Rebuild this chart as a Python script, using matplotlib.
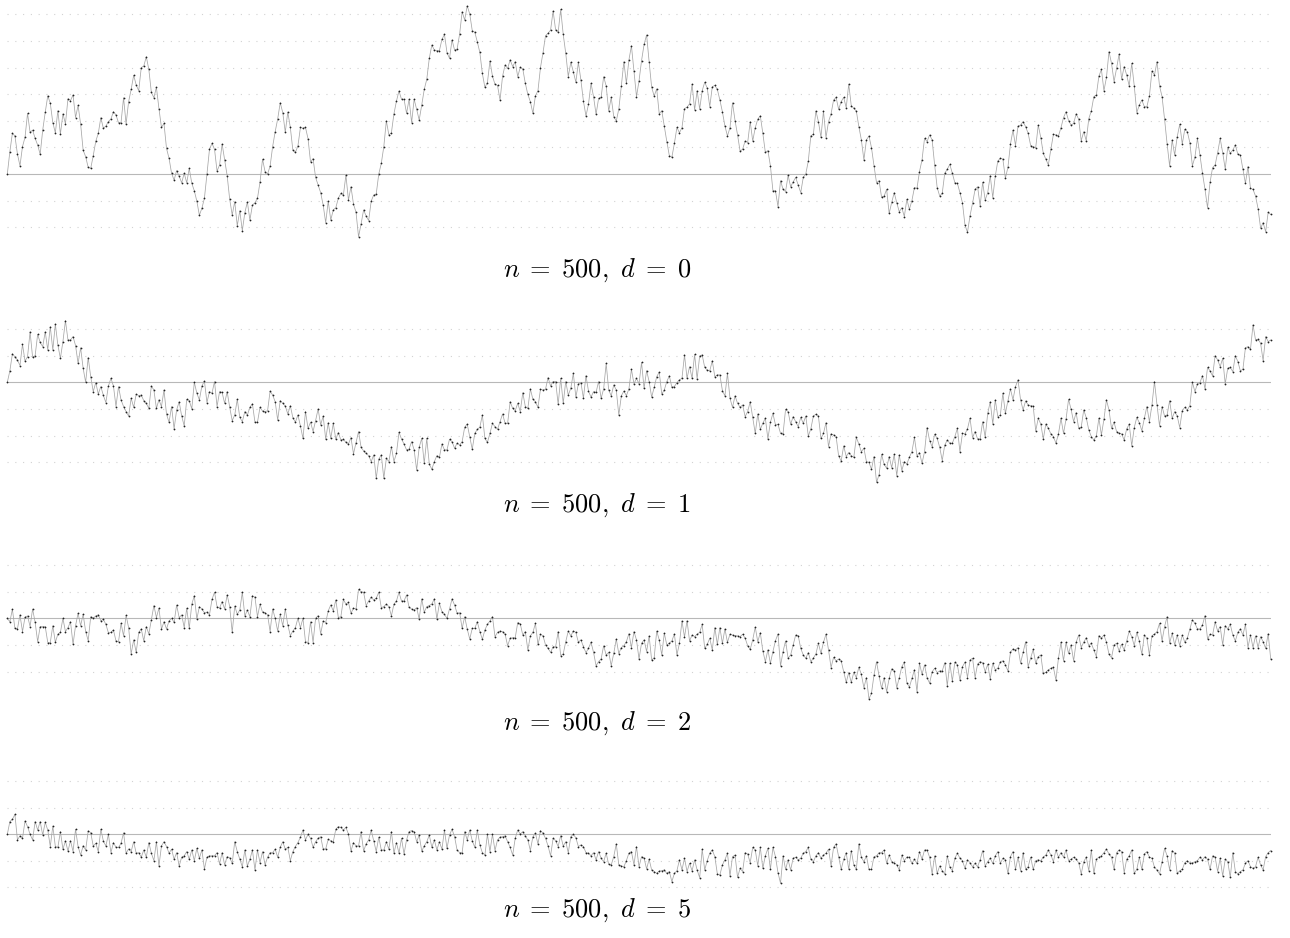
import matplotlib.pyplot as plt
import numpy as np

plt.rcParams['mathtext.fontset'] = 'cm'
plt.rcParams['lines.scale_dashes'] = False

# values, one list per panel (501 points each)
d0 = [
    0, 0.84, 1.53, 1.43, 0.75, 0.31, 1.03, 1.38, 2.28, 1.57,
    1.65, 1.34, 1.09, 0.74, 1.65, 2.32, 2.94, 2.66, 1.93, 1.55,
    2.38, 1.50, 2.26, 1.89, 2.83, 2.76, 2.97, 2.12, 2.58, 1.88,
    0.90, 0.65, 0.25, 0.21, 0.69, 1.23, 1.53, 2.12, 1.72, 1.80,
    1.97, 2.07, 2.34, 2.22, 1.93, 1.93, 2.87, 1.88, 2.72, 3.18,
    3.71, 3.35, 3.13, 4.00, 4.06, 4.41, 3.93, 3.07, 2.87, 3.26,
    2.46, 1.75, 1.90, 0.96, 0.59, 0.03, -0.23, 0.13, -0.08, -0.33,
    0.03, -0.33, 0.21, -0.35, -0.63, -1.02, -1.55, -1.29, -0.91, -0.01,
    0.93, 1.15, 0.93, 0.11, 0.34, 1.13, 0.53, -0.06, -0.95, -1.54,
    -1.04, -1.95, -1.38, -2.13, -1.45, -1.05, -1.73, -1.17, -1.08, -0.91,
    -0.31, 0.56, 0.09, 0.00, 0.30, 1.03, 1.59, 2.07, 2.68, 2.31,
    1.57, 2.33, 1.75, 0.90, 0.81, 1.05, 1.75, 1.72, 1.75, 1.33,
    0.45, 0.58, -0.13,
    -0.41, -0.70, -1.17, -1.83, -1.02, -1.73, -1.35, -1.27, -0.91, -0.73,
    -0.79, -0.04, -0.98, -0.48, -1.13, -1.44, -2.36, -1.88, -1.35, -1.58,
    -1.75, -1.02, -0.79, -0.75, 0.00, 0.40, 1.03, 2.00, 1.47, 1.55,
    2.26, 2.74, 3.12, 2.81, 2.81, 2.28, 2.81, 1.93, 2.81, 2.43,
    2.03, 2.59, 3.18, 3.56, 4.35, 4.85, 4.66, 4.64, 4.64, 5.06,
    5.25, 4.56, 4.35, 5.04, 4.66, 4.69, 5.26, 6.10, 5.79, 6.32,
    6.02, 5.39, 5.33, 4.97, 4.57, 3.78, 3.26, 3.43, 4.25, 3.68,
    3.37, 3.33, 2.78, 3.68, 4.10, 3.97, 4.29, 4.04, 4.22, 3.66,
    4.01, 3.95, 3.41, 2.99, 2.72, 2.28, 2.94, 3.13, 4.00, 4.56,
    5.20, 5.29, 5.41, 6.13, 5.41, 5.33, 6.19, 5.25, 4.54, 3.66,
    4.20, 3.85, 3.45, 4.20, 3.53, 2.74, 2.18, 2.62, 3.41, 2.91,
    2.24, 2.84, 2.88, 3.66, 3.31, 2.37, 2.88, 2.16, 1.99, 2.44,
    3.31, 4.22, 3.41, 4.29,
    4.82, 3.87, 2.91, 3.50, 4.26, 4.87, 5.23, 4.22, 3.26, 2.93,
    3.20, 2.26, 2.38, 1.80, 1.22, 0.69, 0.63, 1.15, 1.75, 1.55,
    1.74, 2.46, 2.51, 2.64, 3.38, 2.41, 3.13, 2.44, 3.13, 3.45,
    3.23, 2.53, 3.28, 3.33, 3.18, 2.78, 2.34, 1.80, 1.43, 1.74,
    2.68, 2.01, 1.47, 0.86, 0.93, 1.24, 1.18, 1.97, 1.24, 1.74,
    2.06, 2.19, 1.53, 0.81, 0.88, 0.31, -0.63, -0.63, -1.23, -0.25,
    -0.58, -0.66, -0.05, -0.48, -0.30, -0.13, -0.41, -0.70, -0.13, 0.00,
    0.49, 1.44, 1.49, 2.37, 1.97, 1.38, 2.37, 1.37, 1.97, 2.26,
    2.78, 2.88, 2.43, 2.72, 2.88, 2.49, 3.38, 2.57, 2.47, 2.37,
    1.78, 1.28, 0.53, 1.28, 1.43, 0.99, 0.31, -0.33, -0.25, -0.88,
    -0.83, -0.58, -1.48, -1.07, -0.70, -1.08, -1.42, -1.27, -1.60, -0.95,
    -1.33, -1.00, -0.51, -0.54, 0.09, 0.53, 1.34, 1.22, 1.47, 1.28,
    0.34, -0.51, -0.83, -0.73, 0.03,
    0.18, 0.36, 0.03, -0.33, -0.35, -0.70, -1.08, -1.92, -2.19, -1.57,
    -1.10, -0.58, -0.48, -1.20, -0.31, -0.98, -0.70, -0.06, -0.89, -0.08,
    0.49, 0.59, 0.56, -0.16, 0.25, 1.12, 1.65, 1.07, 1.80, 1.84,
    1.97, 1.78, 1.53, 1.07, 1.03, 0.99, 1.84, 1.37, 0.78, 0.56,
    0.34, 0.93, 1.49, 1.47, 1.43, 1.74, 2.12, 2.34, 2.01, 1.84,
    1.90, 2.26, 2.06, 1.25, 1.59, 1.25, 2.08, 2.37, 2.91, 2.97,
    3.68, 3.93, 3.13, 3.63, 4.60, 4.16, 3.47, 3.97, 4.51, 3.56,
    4.04, 3.72, 3.31, 4.16, 3.31, 2.31, 2.59, 2.78, 2.53, 2.53,
    2.94, 3.87, 3.72, 4.22, 3.31, 2.91, 2.06, 1.13, 0.30, 1.28,
    0.71, 1.40, 1.87, 1.13, 1.68, 1.59, 1.18, 0.31, 0.63, 1.34,
    0.71, 0.03, -0.58, -1.27, -0.31, 0.24, 0.34, 0.80, 1.34, 0.80,
    0.19, 1.00, 0.78, 0.90, 1.09, 0.74, 0.71, 0.18, -0.35, 0.28,
    -0.54, -0.58, -0.83, -1.30, -2.04, -1.83, -2.17, -1.44, -1.52,
]

d1 = [
    0, 0.43, 1.07, 0.96, 0.84, 0.63, 1.43, 0.80, 0.96, 1.90,
    0.94, 1.00, 1.80, 1.50, 1.34, 1.90, 1.22, 2.09, 1.22, 2.19,
    1.40, 0.90, 1.53, 2.32, 1.59, 1.59, 1.72, 1.38, 0.71, 1.30,
    0.53, 0.00, 0.93, 0.21, -0.35, -0.01, -0.44, -0.16, -0.49, -0.76,
    -0.14, 0.15, -0.14, -0.91, -0.16, -0.66, -0.91, -1.10, -1.27, -0.60,
    -0.94, -0.45, -0.50, -0.48, -0.69, -0.79, -0.98, -0.14, -0.29, -0.98,
    -0.66, -0.91, -0.29, -1.20, -1.50, -0.91, -1.75, -1.04, -0.73, -1.27,
    -1.64, -0.64, -0.69, -1.00, 0.00, -0.41, -0.66, -0.14, 0.05, -0.76,
    -0.35, -0.41, 0.03, -0.91, -0.35, -0.38, -0.79, -0.35, -0.94, -1.44,
    -1.23, -0.64, -1.32, -1.48, -1.10, -1.23, -0.94, -0.81, -1.50, -1.50,
    -0.94, -1.08, -1.10, -1.07, -0.33, -0.48, -0.73, -1.42, -0.69, -0.79,
    -0.89, -1.19, -0.88, -1.33, -1.50, -1.23, -1.64, -2.11, -1.10, -1.73,
    -1.50, -1.85, -1.44, -1.00, -1.60, -1.27, -2.14, -1.52, -2.11, -1.54,
    -2.14, -1.89, -2.17, -2.14, -2.26, -2.32, -2.08, -2.69, -2.27, -1.85,
    -2.44, -2.58, -2.67, -2.76, -2.98, -2.73, -3.61, -2.89, -2.73, -3.61,
    -2.86, -2.98, -2.42, -2.98, -2.67, -1.88, -2.13, -2.32, -2.54, -2.51,
    -2.23, -2.54, -3.30, -2.44, -2.11, -3.05, -2.11, -3.07,
    -3.27, -2.98, -2.76, -2.82, -2.32, -2.54, -2.54, -2.14, -2.23, -2.48,
    -2.29, -2.36, -2.23, -1.69, -1.57, -2.04, -2.52, -1.92, -1.77, -1.69,
    -1.23, -2.11, -2.26, -1.92, -1.54, -1.67, -1.77, -1.48, -1.19, -1.54,
    -1.54, -0.73, -0.98, -1.07, -0.79, -1.10, -0.39, -0.91, -0.98, -0.25,
    -0.64, -0.73, -0.94, -0.26, -0.29, -0.26, 0.18, -0.14, 0.03, 0.03,
    -0.83, 0.15, -0.79, 0.03, -0.48, -0.23, 0.34, -0.56, -0.06, -0.01,
    -0.60, 0.25, -0.33, -0.56, -0.35, -0.38, 0.03, -0.60, -0.25, 0.71,
    -0.29, -0.51, -0.10, -0.29, -1.23, -0.51, -0.33, -0.50, -0.25, 0.49,
    -0.06, 0.15, -0.06, 0.75, -0.23, 0.44, 0.03, -0.56, -0.19, 0.21,
    0.38, -0.44, -0.29, 0.03, 0.24, -0.19, -0.16, -0.01, 0.09, 0.15,
    1.03, 0.15, 0.59, 0.15, 1.05, 0.13, 0.99, 1.03, 0.56, 0.46,
    0.43, 0.81, 0.21, 0.28, 0.28, -0.31, -0.51, 0.34, -0.60, -0.94,
    -0.51, -0.79, -0.94, -0.85, -1.29, -1.10, -0.73, -1.32, -1.92, -1.19,
    -1.77, -1.54, -1.35, -2.13, -1.50, -1.17, -1.60, -1.58, -1.92, -1.94,
    -1.02, -1.10, -1.58, -1.29, -1.48, -1.67, -1.32, -1.54, -1.27, -2.02,
    -1.75, -1.27, -1.20, -1.27, -2.11, -1.92, -1.52, -2.42, -1.94, -1.98,
    -2.04, -2.77, -2.96, -2.39, -2.79, -2.64, -2.76, -2.82,
    -2.07, -2.32, -2.61, -2.48, -2.98, -3.01, -3.27, -2.79, -3.76, -3.48,
    -2.71, -3.08, -3.23, -2.79, -3.21, -2.71, -3.51, -2.73, -3.32, -2.98,
    -3.07, -2.82, -2.61, -2.07, -2.76, -2.64, -3.05, -2.61, -1.70, -2.19,
    -2.42, -1.95, -2.11, -2.44, -2.94, -2.36, -2.17, -2.29, -2.29, -2.04,
    -1.73, -2.61, -1.92, -1.94, -1.75, -1.35, -2.08, -1.85, -2.13, -2.13,
    -1.48, -2.07, -1.17, -0.73, -1.57, -0.66, -1.29, -1.23, -0.41, -1.17,
    -0.69, -0.25, -0.66, -0.16, 0.09, -0.66, -1.04, -0.70, -0.85, -0.88,
    -0.89, -1.83, -1.35, -1.57, -2.13, -1.57, -1.73, -1.94, -2.04, -2.29,
    -1.94, -1.35, -1.92, -1.39, -0.64, -1.02, -1.48, -1.14, -1.73, -1.69,
    -1.04, -1.33, -1.79, -2.04, -2.17, -2.02, -1.35, -1.98, -1.39, -0.66,
    -1.04, -1.73, -1.50, -1.85, -1.92, -1.94, -2.17, -1.75, -1.58, -2.39,
    -1.70, -1.32, -1.52, -1.82, -1.35, -0.91, -1.48, -0.85, 0.03, -0.85,
    -1.64, -0.91, -1.27, -1.23, -0.69, -1.35, -1.10, -1.27, -1.70, -1.07,
    -0.94, -1.04, -0.88, 0.00, -0.35, -0.06, -0.01, 0.25, -0.25, 0.56,
    0.43, 0.24, 1.00, 0.84, 0.59, 0.90, -0.06, 0.53, 0.56, 0.40,
    1.00, 0.78, 0.43, 0.49, 1.30, 1.34, 1.24, 2.16, 1.59, 1.62,
    1.47, 0.81, 1.72, 1.53, 1.59,
]

d2 = [
    0, -0.13, 0.34, -0.38, -0.40, 0.13, -0.50, 0.04, 0.09, -0.31,
    0.35, -0.15, -0.88, -0.31, -0.31, -0.31, -0.91, -0.91, -0.28, -0.90,
    -0.60, -0.53, 0, -0.50, -0.35, -0.13, -0.98, -0.28, 0.19, -0.28,
    0.15, -0.50, -0.84, 0.06, 0, 0.09, 0.13, -0.09, -0.04, -0.23,
    -0.54, -0.53, -0.44, -0.85, -0.88, -0.19, -0.66, 0.11, -0.35, -1.34,
    -0.81, -1.28, -0.53, -0.40, -0.85, -0.31, -0.59, -0.06, 0.48, 0.03,
    0.38, -0.41, -0.13, -0.40, -0.10, 0, -0.15, 0.50, 0.03, 0.13,
    -0.35, 0.38, -0.38, 0.53, 0.85, -0.03, 0.44, 0.35, 0.21, 0.23,
    0.13, 0.71, 0.98, 0.44, 0.38, 0.63, 0.35, 0.88, 0.44, -0.53,
    0.46, 0.15, 0.31, 0.98, 0.09, 0.31, 0.06, 0.85, 0.79, 0.06,
    0.53, 0.23, 0.21, 0.13, -0.50, 0.35, 0, -0.48, 0.15, -0.28,
    0.35, -0.25, -0.65, -0.48, -0.35, 0, -0.35, 0, -0.88, -0.91,
    -0.13, -0.91, 0, 0.10, -0.59, -0.10, -0.16, 0.28, 0.50, 0.28,
    0.69, 0.03, 0.06, 0.71, 0.53, 0.60, 0.19, 0.38, 0.35, 1.09,
    1.00, 0.98, 0.48, 0.65, 0.79, 0.69, 0.75, 0.98, 0.40, 0.44,
    0.53, 0.44, 0.09, 0.53, 0.65, 0.98, 0.65, 0.65, 0.88, 0.41,
    0.35, 0.31, 0.40, -0.03, 0.73, 0.23, 0.44, 0.48, 0.54, 0.73,
    -0.03, 0.56, 0.25, 0.15, 0, 0.35, 0.73, 0.50, 0.19, 0.21,
    -0.38, 0.06, -0.40, -0.78, -0.38, -0.38, -0.13, -0.50, -0.79, -0.44,
    -0.23, -0.10, 0.06, -0.69, -0.53, -0.48, -0.50, -0.60, -1.03, -0.75,
    -0.73, -0.73, -0.16, -0.21, -0.63, -0.50, -1.19, -0.66, -0.53, -0.19,
    -0.98, -0.60, -0.66, -1.00, -1.13, -1.28, -1.07, -1.07, -0.50, -1.40,
    -1.34, -0.88, -0.48, -0.66, -0.48, -0.53, -0.90, -0.81, -1.07, -1.29,
    -1.13, -0.90, -1.28, -1.78, -1.63, -1.53, -1.03, -1.38, -1.28, -1.78,
    -1.32, -0.78, -1.33, -1.10, -1.03, -0.88, -0.58, -1.10, -0.50, -0.81,
    -1.53, -0.94, -0.81,
    -1.25, -0.66, -1.57, -1.48, -0.48, -0.81, -1.38, -0.56,
    -1.00, -0.94, -0.85, -0.59, -1.38, -0.94, -0.10, -0.71, -0.09, -0.85,
    -0.63, -0.69, -0.60, -0.53, -0.23, -1.13, -0.98, -0.75, -1.19, -0.35,
    -0.98, -0.35, -0.94, -0.40, -0.90, -0.60, -0.63, -0.65, -0.66, -0.69,
    -0.60, -0.75, -1.03, -1.17, -0.81, -0.33, -0.88, -0.54, -1.23, -1.63,
    -1.19, -1.69, -1.25, -0.84, -0.59, -1.79, -1.25, -0.85, -1.50, -1.38,
    -1.00, -0.63, -0.65, -1.13, -1.38, -1.50, -1.29, -1.63, -1.50, -1.34,
    -0.94, -1.32, -0.90, -0.60, -1.19, -1.85, -1.47, -1.60, -1.53, -1.60,
    -2.01, -2.41, -2.04, -2.41, -2.03, -2.23, -1.84, -2.11, -2.61, -2.23,
    -3.03, -2.82, -2.13, -1.63, -2.17, -2.63, -2.23, -2.76, -2.26, -1.90,
    -1.98, -2.61, -2.23, -1.82, -1.65, -2.42, -2.59, -2.26, -1.94, -2.76,
    -1.69, -2.11, -1.75, -2.23, -2.44, -2.01, -1.88, -2.04, -1.98, -1.98,
    -1.67, -2.54, -1.69, -2.36, -1.65, -1.75, -2.32, -1.82, -1.65, -2.23,
    -1.57, -1.50, -2.23, -1.72, -1.63, -1.67, -2.01, -1.73, -2.28, -1.69,
    -1.94, -1.88, -1.63, -1.60, -1.75, -1.98, -1.28, -1.15, -1.19, -1.10,
    -1.69, -1.28, -0.88, -1.82, -1.50, -1.17, -1.69, -1.44, -1.38, -2.07,
    -2.03, -1.94, -1.88, -1.84, -2.32, -1.50, -0.90, -1.60, -0.90, -1.32,
    -1.00, -1.60, -0.90, -0.63, -1.10, -0.90, -0.73, -1.03, -0.94, -1.19,
    -1.44, -0.65, -0.75, -0.63, -0.90, -1.35, -1.48, -1.00, -0.94, -1.23,
    -0.98, -1.19, -0.85, -0.48, -0.69, -1.03, -0.53, -0.85, -1.35, -0.63,
    -0.75, -1.38, -0.65, -0.60, -0.50, -0.19, -0.85, -0.31, 0.06, -0.94,
    -0.56, -1.00, -0.63, -1.03, -0.63, -0.90, -0.75, -0.40, -0.06, -0.19,
    -0.40, -0.40, -0.25, 0.10, -0.78, -0.60, -0.63, -0.13, -0.48,
    -0.31, -1.00, -0.28, -0.40, -0.23, -0.63, -0.85, -0.53, -0.40, -0.63,
    -0.23, -1.10, -0.63, -1.10, -0.66, -1.10, -0.69, -0.88, -1.13, -0.58,
    -1.53,
]

d5 = [
    0, 0.48, 0.56, 0.75, -0.21, -0.06, -0.15, 0.50, 0.29, 0,
    -0.21, 0.48, 0.16, 0.48, -0.03, 0.45, 0.16, -0.46, 0.31, -0.46,
    -0.49, 0.10, -0.56, -0.25, -0.63, -0.24, -0.65, 0.19, -0.46, -0.78,
    -0.43, -0.59, 0.13, 0.06, -0.44, -0.34, -0.65, 0.19, -0.25, -0.44,
    0, -0.69, -0.31, -0.49, -0.49, -0.34, 0.06, -0.71, -0.55, -0.65,
    -0.28, -0.71, -0.69, -0.86, -0.59, -0.86, -0.31, -0.71, -0.99, -0.28,
    -1.19, -0.44, -0.28, -0.46, -0.71, -0.56, -0.94, -0.69, -1.19, -0.86,
    -0.81, -0.65, -0.94, -0.59, -0.99, -0.53, -0.90, -0.59, -1.31, -0.86,
    -0.81, -0.81, -0.81, -0.69, -1.11, -0.69, -1.15, -0.84, -0.88, -1.09,
    -0.28, -0.65, -0.94, -1.22, -0.59, -1.19, -0.94, -0.59, -1.34, -0.59,
    -1.07, -0.65, -1.15, -0.86, -0.69, -0.69, -0.56, -0.86, -0.49, -0.28,
    -0.56, -0.49, -0.99, -0.65, -0.46, -0.31, -0.11, 0.16, -0.21, 0,
    -0.15, -0.49, -0.28, -0.15, -0.09, -0.55, -0.55, -0.19, -0.24, -0.28,
    0.19, 0.29, 0.26, 0.16, 0.26, 0.01, -0.63, -0.31, -0.44, -0.44,
    0.10, -0.63, -0.36, -0.21, 0.16, -0.24, -0.65, -0.11, -0.59, -0.59,
    -0.28, -0.56, 0.10, -0.71, -0.31, -0.71, -0.15, -0.74, -0.21, 0.10,
    0.14, 0.10, -0.28, -0.03, -0.63, -0.44, -0.28, -0.03, -0.49, -0.21,
    -0.59, -0.28, -0.56, 0.16, -0.53, -0.03, 0.19, -0.09, -0.59, -0.69,
    -0.69, 0.10, -0.21, 0.16, -0.24, -0.49, 0.16, -0.40, -0.69, -0.78,
    0, -0.65, 0, -0.61, -0.21, -0.11, -0.09, -0.06, -0.28, -0.49,
    -0.78, -0.15, 0.16, 0.01, 0.10, -0.06, -0.21, -0.61, -0.09, 0.04,
    -0.36, 0.14, 0.04, -0.15, -0.44, -0.81, -0.15, -0.24, -0.46, -0.05,
    -0.44, -0.28, -0.69, -0.09, 0, -0.13, -0.46, -0.40, -0.46, -0.69,
    -0.71, -0.81, -0.69, -0.96, -0.65, -0.90, -1.03, -0.71, -1.13, -1.15,
    -0.84, -0.36, -1.15, -1.19, -1.22, -0.99, -0.71, -0.65, -1.15, -0.46,
    -1.22, -0.84, -0.90,
    -1.30, -0.94, -1.34, -1.40, -1.47, -1.38, -1.37, -1.34,
    -1.47, -1.40, -1.78, -1.47, -1.37, -0.96, -1.34, -0.90, -1.40, -1.09,
    -1.37, -0.96, -1.34, -1.63, -0.56, -1.34, -0.99, -0.71, -0.59, -0.84,
    -1.49, -1.53, -1.15, -0.96, -0.71, -1.57, -0.84, -0.78, -1.62, -1.28,
    -1.40, -0.69, -0.74, -1.07, -0.49, -0.59, -1.18, -0.49, -1.28, -0.81,
    -0.53, -1.32, -0.49, -0.84, -1.44, -1.84, -0.81, -1.32, -0.96, -1.34,
    -0.90, -0.86, -0.96, -0.90, -0.71, -0.65, -0.49, -0.94, -1.03, -0.81,
    -0.69, -0.90, -0.78, -0.71, -0.56, -1.19, -0.49, -0.36, -0.84, -1.32,
    -0.94, -0.69, -1.32, -0.61, -1.15, -1.32, -0.36, -0.86, -1.03, -0.81,
    -1.32, -1.32, -0.84, -0.81, -0.69, -0.69, -0.59, -1.09, -0.78, -1.03,
    -1.07, -1.15, -1.34, -0.78, -0.99, -0.86, -0.86, -1.09, -0.94, -1.09,
    -0.65, -0.94, -0.59, -0.59, -0.86, -1.49, -0.81, -1.47, -1.19, -1.37,
    -1.49, -0.81, -1.24, -1.37, -0.90, -0.71, -0.90, -0.99, -1.28, -0.96,
    -1.07, -1.22, -1.09, -1.22, -0.96, -0.61, -1.19, -1.03, -0.90, -1.09,
    -0.81, -0.65, -1.09, -0.90, -0.96, -1.47, -0.84, -0.65, -1.32, -0.86,
    -1.37, -0.69, -1.32, -1.22, -0.86, -1.32, -0.99, -0.96, -0.99, -0.86,
    -0.78, -0.59, -0.78, -1.03, -0.59, -0.86, -0.69, -0.86, -0.59, -0.99,
    -0.94, -0.86, -0.94, -1.07, -1.49, -1.03, -0.86, -1.37, -0.59, -1.47,
    -0.94, -0.86, -0.81, -0.69, -0.56, -0.74, -0.86, -1.32, -0.69, -0.59,
    -0.65, -1.44, -0.94, -0.81, -0.59, -1.47, -1.32, -0.86, -1.32, -0.74,
    -0.65, -0.86, -0.90, -1.24, -1.34, -1.49, -1.03, -0.53, -0.81, -1.34,
    -0.61, -0.71, -1.47, -1.37, -1.32, -1.07, -0.99, -1.09, -1.07, -1.03,
    -0.99, -0.86, -0.96, -0.84, -0.94, -1.32, -0.81, -0.86, -1.40,
    -0.90, -1.57, -0.94, -1.03, -1.62, -0.69, -1.40, -1.49, -1.40, -1.34,
    -1.09, -0.99, -1.22, -1.28, -1.22, -0.86, -1.15, -1.34, -0.84, -0.69,
    -0.61,
]

series = [d0, d1, d2, d5]
d_labels = ['0', '1', '2', '5']
grid_levels = [range(-2, 7), range(-3, 3), range(-2, 3), range(-2, 3)]

# layout in pixels (same vertical scale for every panel)
W, H = 1290, 938
unit = 26.6
x_left, x_right = 7.33, 1270.7
zero_px = [174.0, 382.3, 618.3, 834.3]
ylims = [(-2.5, 6.5), (-3.9, 2.4), (-3.1, 2.1), (-2.05, 2.05)]
title_px = [270, 505, 723, 910]

fig = plt.figure(figsize=(W / 100, H / 100), dpi=100)

for vals, lab, lev, z, (lo, hi), ty in zip(series, d_labels, grid_levels,
                                          zero_px, ylims, title_px):
    top = z - hi * unit
    bot = z - lo * unit
    ax = fig.add_axes([x_left / W, 1 - bot / H,
                       (x_right - x_left) / W, (bot - top) / H])
    ax.set_xlim(0, 500)
    ax.set_ylim(lo, hi)
    ax.axis('off')
    for g in lev:
        if g == 0:
            ax.axhline(0, color='#b8b8b8', lw=0.8, zorder=1)
        else:
            ax.axhline(g, color='#d2d2d2', lw=0.8, ls=(0, (0.8, 4.8)), zorder=1)
    x = np.arange(len(vals))
    ax.plot(x, vals, color='#a6a6a6', lw=0.55, marker='o', ms=1.3,
            mfc='#202020', mec='#202020', mew=0, zorder=3, clip_on=False)
    fig.text(597 / W, 1 - ty / H, r'$n\;=\;500,\ d\;=\;%s$' % lab,
             ha='center', va='center', fontsize=19)

fig.savefig('out.png', dpi=100, facecolor='white')
